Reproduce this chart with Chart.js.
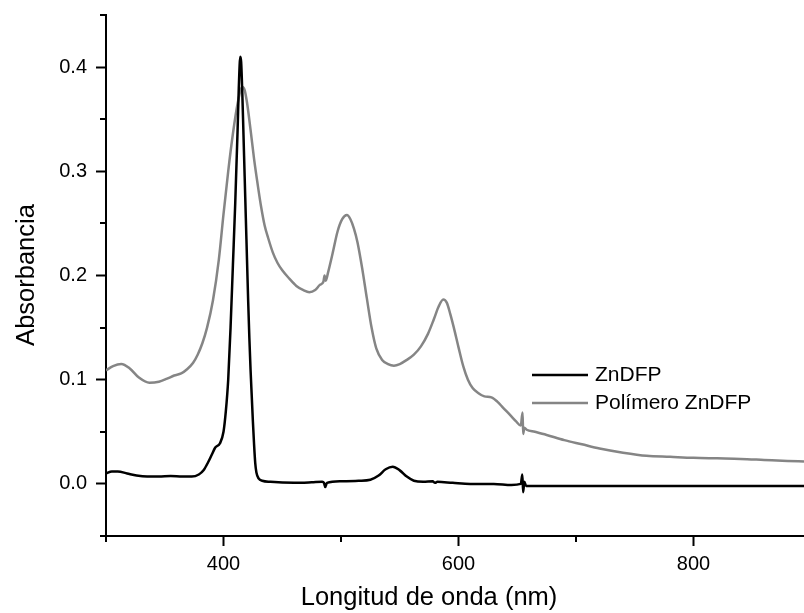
<!DOCTYPE html>
<html>
<head>
<meta charset="utf-8">
<script src="https://cdn.jsdelivr.net/npm/chart.js@4.4.1/dist/chart.umd.min.js"></script>
<style>
  html, body { margin: 0; padding: 0; background: #fff; }
  #chart { display: block; }
</style>
</head>
<body>
<canvas id="chart" width="804" height="613"></canvas>
<script>
// ZnDFP spectrum (nm, absorbance)
const znWavelength = [300, 305, 310, 318, 326, 335, 345, 355, 365, 373, 379, 383, 387, 390, 393, 397,
  400, 402, 404, 406, 408, 410, 412, 413, 414.3, 415, 416, 417, 418, 419, 420, 421, 422, 423, 424, 425,
  426, 427, 428, 430, 433,
  440, 460, 475, 484, 485.5, 486.6, 488, 500, 515, 525, 532, 538, 544, 550, 556, 562, 570, 578,
  580, 582, 595, 610, 630, 645, 653, 654.3, 655, 656, 657.5, 660, 680, 720, 780, 840, 894];
const znAbsorbance = [0.010, 0.012, 0.012, 0.010, 0.008, 0.007, 0.007, 0.0075, 0.007, 0.007, 0.009, 0.013,
  0.021, 0.028, 0.035, 0.039, 0.05, 0.07, 0.10, 0.15, 0.21, 0.27, 0.34, 0.38, 0.41, 0.405, 0.375, 0.335,
  0.295, 0.255, 0.215, 0.175, 0.14, 0.11, 0.085, 0.06, 0.038, 0.02, 0.011, 0.005, 0.003,
  0.002, 0.001, 0.0015, 0.002, 0.001, -0.003, 0.001, 0.0025, 0.003, 0.004, 0.008, 0.014, 0.0165,
  0.013, 0.007, 0.003, 0.002, 0.0025, 0.001, 0.002, 0.001, 0.000, 0.000, -0.001, 0.000, 0.009, -0.008,
  0.002, -0.002, -0.002, -0.002, -0.002, -0.002, -0.002, -0.002];

// Polimero ZnDFP spectrum (nm, absorbance)
const polyWavelength = [300, 306, 313, 320, 328, 337, 345, 352, 358, 364, 369, 374, 378, 382, 386, 391,
  396, 400, 404, 408, 412, 416, 418, 420, 423, 426, 429, 432, 435, 438, 442, 446, 450, 456, 462, 468,
  473, 478, 482, 485, 486, 487, 489, 493, 497, 501, 505, 508, 511, 514, 518, 522, 526, 530, 535, 540,
  545, 550, 556, 562, 568, 574, 579, 583, 587, 590, 593, 596, 600, 604, 608, 612, 617, 622, 628, 633,
  638, 644, 649, 653, 654.5, 655, 656, 658, 665, 675, 690, 705, 720, 740, 760, 780, 800, 820, 840, 860,
  880, 894];
const polyAbsorbance = [0.109, 0.113, 0.115, 0.111, 0.102, 0.097, 0.098, 0.101, 0.104, 0.106, 0.110,
  0.116, 0.124, 0.135, 0.150, 0.176, 0.215, 0.259, 0.300, 0.336, 0.365, 0.381, 0.378, 0.366, 0.340,
  0.312, 0.288, 0.266, 0.248, 0.236, 0.222, 0.212, 0.205, 0.197, 0.190, 0.186,
  0.184, 0.186, 0.191, 0.194, 0.200, 0.195, 0.203, 0.222, 0.242, 0.254, 0.258, 0.254, 0.245, 0.232,
  0.207, 0.178, 0.150, 0.130, 0.119, 0.115, 0.1135, 0.115, 0.119, 0.124, 0.132, 0.144, 0.158, 0.170,
  0.177, 0.174, 0.163, 0.150, 0.131, 0.113, 0.100, 0.092, 0.087, 0.084, 0.083, 0.079, 0.073, 0.066,
  0.060, 0.056, 0.0686, 0.048, 0.054, 0.052, 0.050, 0.047, 0.042, 0.038, 0.034, 0.030, 0.027, 0.026,
  0.025, 0.0245, 0.024, 0.023, 0.022, 0.0215];

const seriesLabels = ["ZnDFP", "Polímero ZnDFP"];
const seriesColors = ["#000000", "#858585"];
const xTitle = "Longitud de onda (nm)";
const yTitle = "Absorbancia";
const xTickValues = [300, 400, 500, 600, 700, 800];
const xLabelledTicks = [400, 600, 800];
const yTickValues = [-0.05, 0, 0.05, 0.1, 0.15, 0.2, 0.25, 0.3, 0.35, 0.4, 0.45];
const yLabelledTicks = [0.0, 0.1, 0.2, 0.3, 0.4];

const FONT = "'Liberation Sans', Arial, sans-serif";

function toPoints(xs, ys) {
  return xs.map((x, i) => ({ x: x, y: ys[i] }));
}

function isLabelled(value, list) {
  return list.some((v) => Math.abs(v - value) < 1e-6);
}

// minor ticks, axis titles and the in-plot legend
const extras = {
  id: "extras",
  afterDraw(chart) {
    const ctx = chart.ctx;
    const xs = chart.scales.x;
    const ys = chart.scales.y;
    ctx.save();
    ctx.strokeStyle = "#000";
    ctx.lineWidth = 2;
    for (const t of xs.ticks) {
      if (isLabelled(t.value, xLabelledTicks)) continue;
      const px = Math.round(xs.getPixelForValue(t.value));
      ctx.beginPath();
      ctx.moveTo(px, xs.top);
      ctx.lineTo(px, xs.top + 6);
      ctx.stroke();
    }
    for (const t of ys.ticks) {
      if (isLabelled(t.value, yLabelledTicks)) continue;
      const py = Math.round(ys.getPixelForValue(t.value));
      ctx.beginPath();
      ctx.moveTo(ys.right, py);
      ctx.lineTo(ys.right - 6, py);
      ctx.stroke();
    }

    ctx.fillStyle = "#000";
    ctx.font = "25.5px " + FONT;
    ctx.textAlign = "center";
    ctx.textBaseline = "middle";
    ctx.fillText(xTitle, 429, 598);
    ctx.save();
    ctx.translate(27, 275);
    ctx.rotate(-Math.PI / 2);
    ctx.fillText(yTitle, 0, 0);
    ctx.restore();

    ctx.font = "21px " + FONT;
    ctx.textAlign = "left";
    seriesLabels.forEach((label, i) => {
      const ly = 375 + i * 28;
      ctx.strokeStyle = seriesColors[i];
      ctx.lineWidth = 2.5;
      ctx.beginPath();
      ctx.moveTo(532, ly);
      ctx.lineTo(588, ly);
      ctx.stroke();
      ctx.fillText(label, 595, ly);
    });
    ctx.restore();
  },
};

const tickColor = (list) => (c) => (c.tick && isLabelled(c.tick.value, list) ? "#000" : "rgba(0,0,0,0)");

new Chart(document.getElementById("chart"), {
  type: "line",
  data: {
    datasets: [
      {
        label: seriesLabels[0],
        data: toPoints(znWavelength, znAbsorbance),
        borderColor: seriesColors[0],
        borderWidth: 2.5,
        pointRadius: 0,
        cubicInterpolationMode: "monotone",
      },
      {
        label: seriesLabels[1],
        data: toPoints(polyWavelength, polyAbsorbance),
        borderColor: seriesColors[1],
        borderWidth: 2.5,
        pointRadius: 0,
        cubicInterpolationMode: "monotone",
      },
    ],
  },
  options: {
    responsive: false,
    animation: false,
    devicePixelRatio: 1,
    layout: { padding: { top: 15, right: 0, bottom: 0, left: 0 } },
    plugins: {
      legend: { display: false },
      tooltip: { enabled: false },
    },
    scales: {
      x: {
        type: "linear",
        min: 300,
        max: 894,
        afterBuildTicks: (s) => { s.ticks = xTickValues.map((v) => ({ value: v })); },
        afterFit: (s) => { s.height = 77; s.paddingLeft = 0; s.paddingRight = 0; },
        border: { display: true, color: "#000", width: 2 },
        grid: {
          drawOnChartArea: false,
          tickLength: 10,
          tickWidth: 2,
          color: tickColor(xLabelledTicks),
          tickColor: tickColor(xLabelledTicks),
        },
        ticks: {
          autoSkip: false,
          maxRotation: 0,
          padding: 6,
          color: "#000",
          font: { family: FONT, size: 20 },
          callback: (v) => (isLabelled(v, xLabelledTicks) ? String(v) : ""),
        },
      },
      y: {
        min: -0.05,
        max: 0.45,
        afterBuildTicks: (s) => { s.ticks = yTickValues.map((v) => ({ value: v })); },
        afterFit: (s) => { s.width = 106; s.paddingTop = 0; s.paddingBottom = 0; },
        border: { display: true, color: "#000", width: 2 },
        grid: {
          drawOnChartArea: false,
          tickLength: 10,
          tickWidth: 2,
          color: tickColor(yLabelledTicks),
          tickColor: tickColor(yLabelledTicks),
        },
        ticks: {
          autoSkip: false,
          padding: 9,
          color: "#000",
          font: { family: FONT, size: 20 },
          callback: (v) => (isLabelled(v, yLabelledTicks) ? v.toFixed(1) : ""),
        },
      },
    },
  },
  plugins: [extras],
});
</script>
</body>
</html>
